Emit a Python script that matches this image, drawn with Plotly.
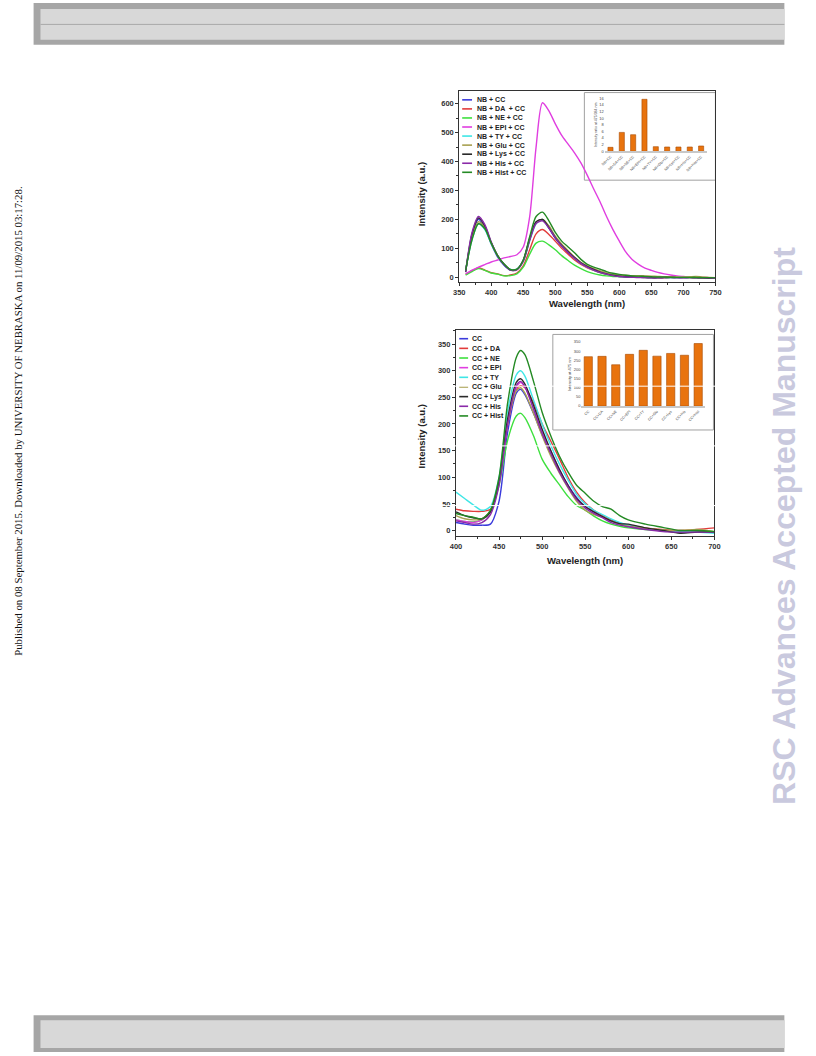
import plotly.graph_objects as go

# ---------------- data: top panel (NB + analyte + CC) ----------------
top_wl = [360, 370, 380, 390, 400, 410, 420, 430, 440, 450, 460, 470, 480, 490, 500,
          510, 520, 530, 540, 550, 560, 570, 580, 590, 600, 610, 620, 630, 640, 650,
          660, 670, 680, 690, 700, 710, 720, 730, 740, 750]
nb_cc = [20, 140, 200, 170, 115, 70, 42, 25, 28, 60, 135, 190, 198, 170, 135, 108, 85, 65, 48, 35,
         25, 16, 10, 6, 3, 1, 0, 0, 0, -1, 0, 0, 0, -1, 0, 0, 0, -1, -2, -2]
nb_da_cc = [10, 22, 32, 25, 16, 12, 6, 8, 15, 40, 95, 150, 165, 148, 125, 100, 80, 60, 45, 33,
            24, 16, 10, 6, 4, 2, 1, 0, 0, 0, 0, -1, 0, 0, 0, 0, -1, -2, -3, -3]
nb_ne_cc = [8, 20, 30, 24, 15, 11, 5, 6, 12, 35, 80, 118, 125, 112, 95, 75, 58, 42, 30, 20,
            13, 8, 5, 3, 2, 1, 0, 0, 0, -1, 0, 0, -1, 0, 0, -1, -1, -2, -2, -3]
nb_epi_cc = [12, 25, 35, 44, 53, 60, 67, 72, 78, 105, 210, 450, 603, 575, 530, 490, 460, 430, 395, 352,
             305, 260, 210, 165, 125, 88, 62, 45, 32, 24, 17, 12, 8, 5, 3, 1, 2, 0, -1, -2]
nb_ty_cc = [25, 130, 185, 165, 115, 72, 44, 27, 28, 55, 125, 185, 200, 175, 140, 110, 88, 66, 48, 35,
            25, 17, 11, 7, 4, 2, 1, 0, 0, 0, 0, 0, -1, 0, -1, 0, -1, -1, -2, -2]
nb_glu_cc = [22, 140, 192, 172, 118, 74, 45, 26, 27, 58, 130, 188, 200, 178, 142, 115, 92, 70, 52, 40,
             30, 22, 15, 11, 8, 7, 6, 6, 5, 4, 3, 2, 2, 1, 1, 2, 3, 1, 0, -1]
nb_lys_cc = [18, 150, 205, 178, 120, 74, 44, 25, 27, 58, 132, 192, 200, 172, 137, 110, 88, 68, 50, 37,
             27, 18, 12, 7, 4, 2, 1, 0, -1, -1, -2, -1, 0, -1, -1, -1, -2, -2, -3, -3]
nb_his_cc = [20, 155, 210, 182, 122, 75, 45, 25, 26, 56, 128, 186, 195, 170, 136, 108, 86, 66, 48, 35,
             25, 17, 11, 6, 3, 1, 0, -1, -1, -2, -2, -1, -1, -1, -2, -1, -1, -2, -2, -3]
nb_hist_cc = [24, 130, 185, 168, 118, 75, 46, 27, 28, 60, 140, 210, 225, 195, 155, 125, 105, 85, 62, 45,
              35, 28, 20, 14, 10, 7, 5, 4, 3, 2, 1, 1, 0, 0, 0, 0, 0, -1, -1, -2]
top_names = ["NB + CC", "NB + DA  + CC", "NB + NE + CC", "NB + EPI + CC", "NB + TY + CC",
             "NB + Glu + CC", "NB + Lys + CC", "NB + His + CC", "NB + Hist + CC"]
top_series = [nb_cc, nb_da_cc, nb_ne_cc, nb_epi_cc, nb_ty_cc, nb_glu_cc, nb_lys_cc, nb_his_cc, nb_hist_cc]

top_bar_labels = ["NB+CC", "NB+DA+CC", "NB+NE+CC", "NB+EPI+CC", "NB+TY+CC",
                  "NB+Glu+CC", "NB+Lys+CC", "NB+His+CC", "NB+Hist+CC"]
top_bar_vals = [1.2, 5.7, 5.0, 15.7, 1.4, 1.3, 1.3, 1.3, 1.6]

# ---------------- data: bottom panel (CC + analyte) ----------------
bot_wl = [400, 410, 420, 430, 440, 450, 460, 470, 475, 480, 490, 500, 510, 520, 530, 540,
          550, 560, 570, 580, 590, 600, 620, 640, 660, 680, 700]
cc = [15, 12, 10, 10, 12, 55, 185, 258, 265, 255, 220, 180, 145, 112, 85, 62, 45, 35, 25, 18, 12, 8, 3, 0, -3, -2, -3]
cc_da = [40, 37, 36, 36, 40, 90, 200, 265, 272, 268, 240, 200, 168, 135, 100, 72, 52, 38, 28, 20, 14, 10, 5, 2, 0, 2, 5]
cc_ne = [20, 17, 16, 20, 35, 85, 170, 215, 220, 212, 178, 134, 108, 86, 64, 47, 38, 27, 18, 12, 8, 5, 2, 0, -2, 0, -2]
cc_epi = [20, 17, 15, 20, 35, 90, 200, 268, 278, 270, 230, 185, 150, 115, 85, 60, 45, 35, 25, 18, 12, 8, 3, 0, -2, -2, -3]
cc_ty = [72, 60, 48, 38, 45, 100, 225, 292, 300, 290, 245, 200, 160, 125, 95, 68, 50, 38, 30, 22, 15, 10, 4, 0, -2, -3, -5]
cc_glu = [28, 22, 20, 22, 38, 95, 200, 262, 268, 258, 220, 178, 140, 108, 80, 55, 38, 30, 25, 18, 12, 8, 4, 1, 0, 2, -2]
cc_lys = [35, 28, 24, 22, 35, 92, 210, 278, 285, 275, 235, 190, 150, 115, 85, 60, 45, 35, 26, 18, 13, 12, 5, 0, -5, -3, -3]
cc_his = [18, 15, 12, 15, 30, 85, 200, 272, 280, 270, 228, 182, 145, 110, 82, 58, 42, 32, 24, 15, 10, 7, 2, -2, -3, -3, -3]
cc_hist = [32, 28, 25, 22, 38, 100, 240, 325, 338, 330, 280, 222, 178, 140, 110, 85, 70, 55, 45, 40, 28, 20, 12, 6, 0, 0, -2]
bot_names = ["CC", "CC + DA", "CC + NE", "CC + EPI", "CC + TY", "CC + Glu", "CC + Lys", "CC + His", "CC + Hist"]
bot_series = [cc, cc_da, cc_ne, cc_epi, cc_ty, cc_glu, cc_lys, cc_his, cc_hist]

bot_bar_labels = ["CC", "CC+DA", "CC+NE", "CC+EPI", "CC+TY", "CC+Glu", "CC+Lys", "CC+His", "CC+Hist"]
bot_bar_vals = [270, 272, 226, 283, 305, 273, 288, 278, 342]

colors = ["#3b3bdc", "#e23b3b", "#3ee03e", "#e03ee0", "#3ee6e6", "#a8a050", "#2a2a2a", "#8a2aa8", "#248a24"]

# ---------------- layout helpers ----------------
W, H = 816, 1056
def px(x):
    return x / W
def py(y):
    return 1 - y / H

FONT = "Liberation Sans"
tickfont = dict(family=FONT, size=7.5, color="#333", weight="bold")

fig = go.Figure()

for name, vals, col in zip(top_names, top_series, colors):
    fig.add_trace(go.Scatter(x=top_wl, y=vals, mode="lines", name=name,
                             line=dict(color=col, width=1.4, shape="spline", smoothing=0.8),
                             xaxis="x", yaxis="y", showlegend=False, hoverinfo="skip"))
fig.add_trace(go.Bar(x=top_bar_labels, y=top_bar_vals, xaxis="x2", yaxis="y2", width=0.45,
                     marker=dict(color="#e8730e", line=dict(color="#a84a00", width=0.6)),
                     showlegend=False, hoverinfo="skip"))
for name, vals, col in zip(bot_names, bot_series, colors):
    fig.add_trace(go.Scatter(x=bot_wl, y=vals, mode="lines", name=name,
                             line=dict(color=col, width=1.4, shape="spline", smoothing=0.8),
                             xaxis="x3", yaxis="y3", showlegend=False, hoverinfo="skip"))
fig.add_trace(go.Bar(x=bot_bar_labels, y=bot_bar_vals, xaxis="x4", yaxis="y4", width=0.6,
                     marker=dict(color="#e8730e", line=dict(color="#a84a00", width=0.6)),
                     showlegend=False, hoverinfo="skip"))

main_axis = dict(showline=True, linecolor="#333", linewidth=1, mirror=True, ticks="outside",
                 ticklen=3, tickwidth=1, tickcolor="#333", showgrid=False, zeroline=False,
                 tickfont=tickfont)
inset_x = dict(type="category", tickangle=-45, showline=True, linecolor="#c8c8c8", linewidth=2,
               ticks="", showgrid=False, zeroline=False,
               tickfont=dict(family=FONT, size=3.6, color="#444"))
inset_y = dict(showline=False, ticks="", showgrid=False, zeroline=False,
               tickfont=dict(family=FONT, size=4, color="#444"))

fig.update_layout(
    width=W, height=H, margin=dict(l=0, r=0, t=0, b=0), autosize=False,
    paper_bgcolor="white", plot_bgcolor="rgba(0,0,0,0)",
    xaxis=dict(domain=[px(460), px(720)], range=[350, 750], tick0=350, dtick=50, anchor="y",
               minor=dict(ticks="outside", ticklen=2, dtick=25, tickcolor="#333"), **main_axis),
    yaxis=dict(domain=[py(280), py(88)], range=[-15, 645], tick0=0, dtick=100, anchor="x",
               minor=dict(ticks="outside", ticklen=2, dtick=50, tickcolor="#333"), **main_axis),
    xaxis2=dict(domain=[px(607.75), px(711.25)], anchor="y2", **inset_x),
    yaxis2=dict(domain=[py(149), py(95.7)], range=[0, 16], dtick=2, anchor="x2",
                title=dict(text="Intensity ratio at 475/384 nm", font=dict(family=FONT, size=3.5, color="#444"),
                           standoff=2), **inset_y),
    xaxis3=dict(domain=[px(456.7), px(719)], range=[400, 700], tick0=400, dtick=50, anchor="y3",
                minor=dict(ticks="outside", ticklen=2, dtick=25, tickcolor="#333"), **main_axis),
    yaxis3=dict(domain=[py(535.7), py(329)], range=[-10.6, 375.6], tick0=0, dtick=50, anchor="x3",
                minor=dict(ticks="outside", ticklen=2, dtick=25, tickcolor="#333"), **main_axis),
    xaxis4=dict(domain=[px(584), px(709.5)], anchor="y4", **inset_x),
    yaxis4=dict(domain=[py(405), py(340.7)], range=[0, 350], dtick=50, anchor="x4",
                title=dict(text="Intensity at 475 nm", font=dict(family=FONT, size=4, color="#444"),
                           standoff=2), **inset_y),
)

shapes = []
annotations = []

def rect(x0, y0, x1, y1, fill, layer="below", line=None):
    d = dict(type="rect", xref="paper", yref="paper", x0=px(x0), x1=px(x1), y0=py(y1), y1=py(y0),
             fillcolor=fill, layer=layer, line=dict(width=0))
    if line:
        d["line"] = line
    return d

# header / footer bars
shapes.append(rect(28, 0, 790, 42, "#a6a6a6"))
shapes.append(rect(35, 6, 790, 37, "#d8d8d8"))
shapes.append(dict(type="line", xref="paper", yref="paper", x0=px(35), x1=px(790), y0=py(21.5), y1=py(21.5),
                   line=dict(color="#a8a8a8", width=1), layer="below"))
shapes.append(rect(28, 1017, 790, 1054, "#a6a6a6"))
shapes.append(rect(35, 1022, 790, 1050, "#d8d8d8"))

# inset boxes
shapes.append(rect(587, 90, 720, 178, "white", line=dict(color="#a0a0a0", width=1)))
shapes.append(rect(555, 333, 718, 429, "white", line=dict(color="#a0a0a0", width=1)))

# legends
def legend(names, x_line0, x_line1, x_text, y0, dy):
    for i, (name, col) in enumerate(zip(names, colors)):
        yy = y0 + i * dy
        shapes.append(dict(type="line", xref="paper", yref="paper", x0=px(x_line0), x1=px(x_line1),
                           y0=py(yy), y1=py(yy), line=dict(color=col, width=1.6)))
        annotations.append(dict(text=name, x=px(x_text), y=py(yy), xref="paper", yref="paper",
                                xanchor="left", yanchor="middle", showarrow=False,
                                font=dict(family=FONT, size=7, color="#222", weight="bold")))

legend(top_names, 463, 473, 475.5, 97.3, 9.1)
legend(bot_names, 460, 469, 471, 337.3, 9.7)

# axis titles
def title(text, x, y, angle=0):
    annotations.append(dict(text=text, x=px(x), y=py(y), xref="paper", yref="paper",
                            xanchor="center", yanchor="middle", showarrow=False, textangle=angle,
                            font=dict(family=FONT, size=9.5, color="#222", weight="bold")))

title("Intensity (a.u.)", 421.7, 191.7, -90)
title("Wavelength (nm)", 590, 301.5)
title("Intensity (a.u.)", 421.7, 435, -90)
title("Wavelength (nm)", 588, 560.5)

# scan artefact lines across lower figure
for yy in [385, 445, 505]:
    shapes.append(dict(type="line", xref="paper", yref="paper", x0=px(410), x1=px(730),
                       y0=py(yy), y1=py(yy), line=dict(color="white", width=1), layer="above"))

# side texts
annotations.append(dict(text="Published on 08 September 2015. Downloaded by UNIVERSITY OF NEBRASKA on 11/09/2015 03:17:28.",
                        x=px(12), y=py(420), xref="paper", yref="paper", textangle=-90,
                        xanchor="center", yanchor="middle", showarrow=False,
                        font=dict(family="Liberation Serif", size=10.8, color="#111")))
annotations.append(dict(text="RSC Advances Accepted Manuscript",
                        x=px(789), y=py(525), xref="paper", yref="paper", textangle=-90,
                        xanchor="center", yanchor="middle", showarrow=False,
                        font=dict(family=FONT, size=32, color="#c9c9de", weight="bold")))

fig.update_layout(shapes=shapes, annotations=annotations)
fig.write_html("out.html", config={"displayModeBar": False, "responsive": False},
               post_script="document.body.style.margin='0px';document.body.style.overflow='hidden';")
